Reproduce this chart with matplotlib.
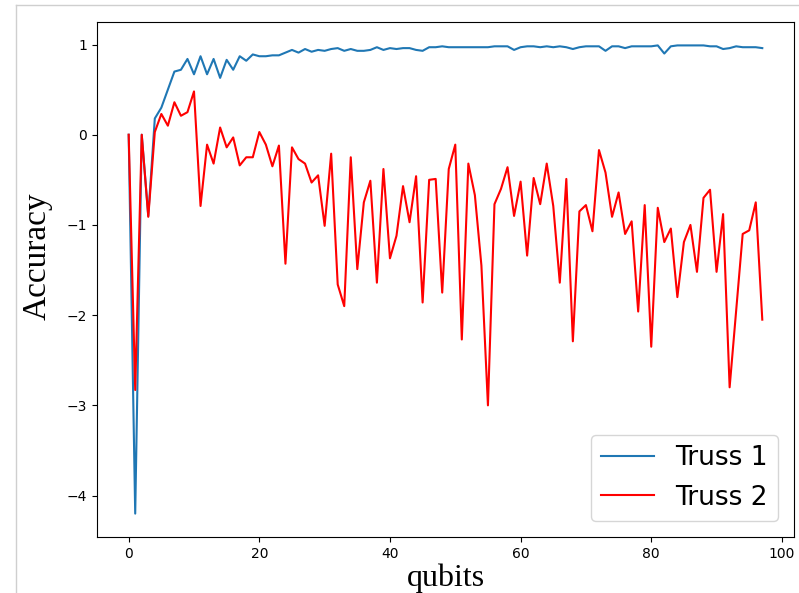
import matplotlib
matplotlib.use("Agg")
import matplotlib.pyplot as plt
from matplotlib.lines import Line2D

# accuracy per qubit count for the two trusses
qubits = list(range(98))

truss1 = [
    0.0, -4.2, 0.0, -0.9, 0.18, 0.3, 0.5, 0.7, 0.72, 0.84,
    0.67, 0.87, 0.67, 0.84, 0.63, 0.83, 0.72, 0.87, 0.82, 0.89,
    0.87, 0.87, 0.88, 0.88, 0.91, 0.94, 0.91, 0.95, 0.92, 0.94,
    0.93, 0.95, 0.96, 0.93, 0.95, 0.93, 0.93, 0.94, 0.97, 0.94,
    0.96, 0.95, 0.96, 0.96, 0.94, 0.93, 0.97, 0.97, 0.98, 0.97,
    0.97, 0.97, 0.97, 0.97, 0.97, 0.97, 0.98, 0.98, 0.98, 0.94,
    0.97, 0.98, 0.98, 0.97, 0.98, 0.97, 0.98, 0.97, 0.95, 0.97,
    0.98, 0.98, 0.98, 0.93, 0.98, 0.98, 0.96, 0.98, 0.98, 0.98,
    0.98, 0.99, 0.90, 0.98, 0.99, 0.99, 0.99, 0.99, 0.99, 0.98,
    0.98, 0.95, 0.96, 0.98, 0.97, 0.97, 0.97, 0.96,
]

truss2 = [
    0.0, -2.83, 0.0, -0.91, 0.03, 0.23, 0.10, 0.36, 0.21, 0.25,
    0.48, -0.79, -0.11, -0.32, 0.08, -0.14, -0.03, -0.34, -0.25, -0.25,
    0.03, -0.11, -0.35, -0.12, -1.43, -0.14, -0.27, -0.32, -0.53, -0.45,
    -1.01, -0.21, -1.66, -1.90, -0.25, -1.49, -0.75, -0.51, -1.64, -0.38,
    -1.37, -1.12, -0.57, -0.97, -0.46, -1.86, -0.50, -0.49, -1.75, -0.38,
    -0.11, -2.27, -0.32, -0.67, -1.45, -3.0, -0.77, -0.60, -0.36, -0.90,
    -0.52, -1.34, -0.48, -0.77, -0.32, -0.79, -1.64, -0.49, -2.29, -0.85,
    -0.78, -1.07, -0.17, -0.42, -0.91, -0.64, -1.10, -0.96, -1.96, -0.78,
    -2.35, -0.81, -1.19, -1.04, -1.80, -1.19, -1.0, -1.52, -0.70, -0.61,
    -1.52, -0.88, -2.80, -1.95, -1.10, -1.06, -0.75, -2.05,
]

fig = plt.figure(figsize=(7.99, 5.93), dpi=100)
ax = fig.add_axes([0.1214, 0.0944, 0.8723, 0.8685])

ax.plot(qubits, truss1, color="tab:blue", label="Truss 1")
ax.plot(qubits, truss2, color="red", label="Truss 2")

ax.set_xlabel("qubits", family="Liberation Serif", fontsize=23, labelpad=2)
ax.set_ylabel("Accuracy", family="Liberation Serif", fontsize=24)
ax.yaxis.set_label_coords(-0.063, 0.545)
ax.legend(loc="lower right", fontsize=19, borderaxespad=0.6)

# thin frame around the saved figure
for xs, ys in (([16 / 799, 16 / 799], [0, 1 - 5 / 593]), ([16 / 799, 1], [1 - 5 / 593, 1 - 5 / 593])):
    fig.add_artist(Line2D(xs, ys, transform=fig.transFigure, color="#cfcfcf", lw=1))

fig.savefig("out.png", dpi=100)
